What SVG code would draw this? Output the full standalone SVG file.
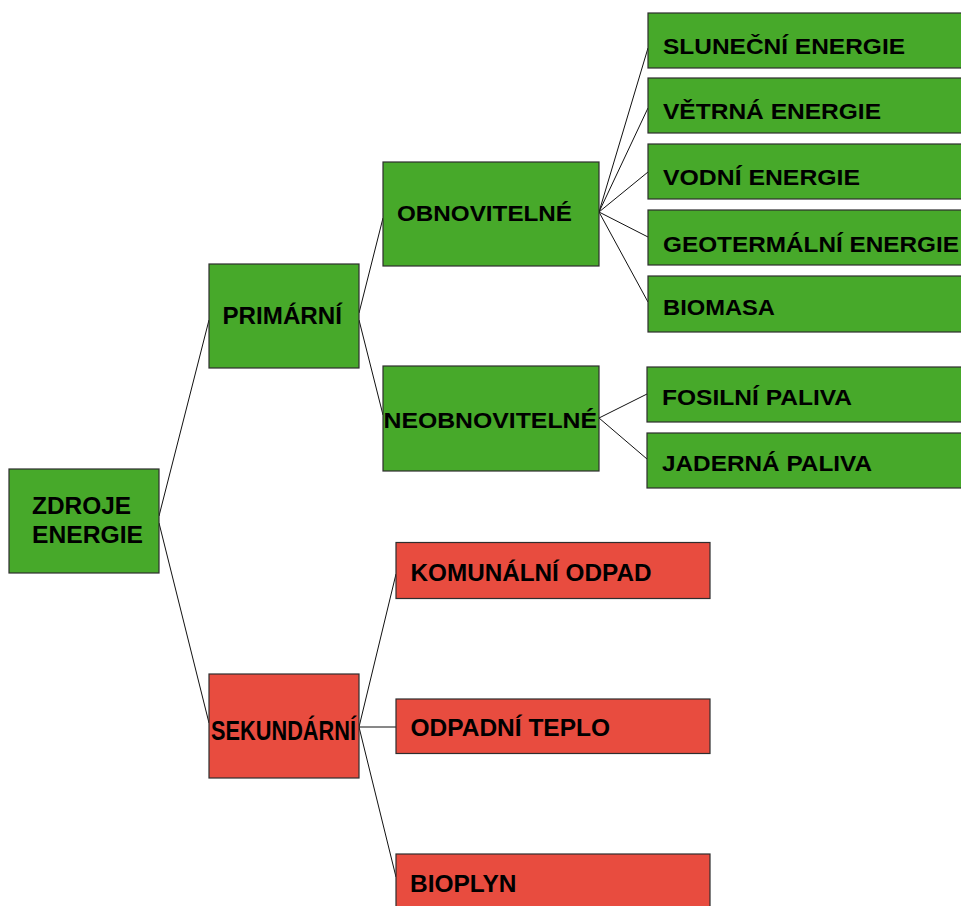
<svg xmlns="http://www.w3.org/2000/svg" width="961" height="906" viewBox="0 0 961 906">
<style>
.g{fill:#47a92a;stroke:#2e2e2e;stroke-width:1.2}
.r{fill:#e84c3f;stroke:#2e2e2e;stroke-width:1.2}
text{font-family:"Liberation Sans",Arial,sans-serif;font-weight:bold;fill:#000}
.c line{stroke:#111;stroke-width:1}
</style>
<rect width="961" height="906" fill="#fff"/>
<g class="c" id="connectors">
<line x1="159" y1="516" x2="209" y2="320"/>
<line x1="159" y1="523" x2="209" y2="723"/>
<line x1="359" y1="313" x2="383" y2="218"/>
<line x1="359" y1="320" x2="383" y2="415"/>
<line x1="599" y1="212" x2="648" y2="48"/>
<line x1="599" y1="212" x2="648" y2="108"/>
<line x1="599" y1="212" x2="648" y2="172"/>
<line x1="599" y1="212" x2="648" y2="237"/>
<line x1="599" y1="212" x2="648" y2="302"/>
<line x1="599" y1="418" x2="647" y2="394"/>
<line x1="599" y1="418" x2="647" y2="459"/>
<line x1="359" y1="727" x2="396" y2="574"/>
<line x1="359" y1="727" x2="396" y2="727"/>
<line x1="359" y1="727" x2="396" y2="877"/>
</g>
<g id="zdroje"><rect class="g" x="9" y="469" width="150" height="104"/>
<text x="32" y="514" font-size="23" textLength="99" lengthAdjust="spacingAndGlyphs">ZDROJE</text>
<text x="32" y="542.5" font-size="23" textLength="111" lengthAdjust="spacingAndGlyphs">ENERGIE</text></g>
<g id="primarni"><rect class="g" x="209" y="264" width="150" height="104"/>
<text x="222.5" y="324" font-size="24" textLength="119.5" lengthAdjust="spacingAndGlyphs">PRIMÁRNÍ</text></g>
<g id="sekundarni"><rect class="r" x="209" y="674" width="150" height="104"/>
<text x="211" y="740" font-size="28" textLength="145" lengthAdjust="spacingAndGlyphs">SEKUNDÁRNÍ</text></g>
<g id="obnovitelne"><rect class="g" x="383" y="162" width="216" height="104"/>
<text x="397" y="221" font-size="22" textLength="175" lengthAdjust="spacingAndGlyphs">OBNOVITELNÉ</text></g>
<g id="neobnovitelne"><rect class="g" x="383" y="366" width="216" height="105"/>
<text x="383.5" y="428" font-size="22" textLength="213.5" lengthAdjust="spacingAndGlyphs">NEOBNOVITELNÉ</text></g>
<g id="slunecni"><rect class="g" x="648" y="13" width="330" height="55"/>
<text x="663" y="54" font-size="21.5" textLength="242" lengthAdjust="spacingAndGlyphs">SLUNEČNÍ ENERGIE</text></g>
<g id="vetrna"><rect class="g" x="648" y="78" width="330" height="55"/>
<text x="663" y="119" font-size="21.5" textLength="218" lengthAdjust="spacingAndGlyphs">VĚTRNÁ ENERGIE</text></g>
<g id="vodni"><rect class="g" x="648" y="144" width="330" height="55"/>
<text x="663" y="185" font-size="21.5" textLength="197" lengthAdjust="spacingAndGlyphs">VODNÍ ENERGIE</text></g>
<g id="geotermalni"><rect class="g" x="648" y="210" width="330" height="55"/>
<text x="663" y="251.5" font-size="21.5" textLength="296" lengthAdjust="spacingAndGlyphs">GEOTERMÁLNÍ ENERGIE</text></g>
<g id="biomasa"><rect class="g" x="648" y="276" width="330" height="56"/>
<text x="663" y="315" font-size="21.5" textLength="112" lengthAdjust="spacingAndGlyphs">BIOMASA</text></g>
<g id="fosilni"><rect class="g" x="647" y="367" width="330" height="55"/>
<text x="662" y="405" font-size="22.5" textLength="190" lengthAdjust="spacingAndGlyphs">FOSILNÍ PALIVA</text></g>
<g id="jaderna"><rect class="g" x="647" y="433" width="330" height="55"/>
<text x="662" y="471" font-size="22.5" textLength="210" lengthAdjust="spacingAndGlyphs">JADERNÁ PALIVA</text></g>
<g id="komunalni"><rect class="r" x="396" y="542.5" width="314" height="56"/>
<text x="410.5" y="581" font-size="23.5" textLength="241" lengthAdjust="spacingAndGlyphs">KOMUNÁLNÍ ODPAD</text></g>
<g id="odpadni"><rect class="r" x="396" y="699" width="314" height="54.5"/>
<text x="410.5" y="736" font-size="23.5" textLength="199.5" lengthAdjust="spacingAndGlyphs">ODPADNÍ TEPLO</text></g>
<g id="bioplyn"><rect class="r" x="396" y="854" width="314" height="60"/>
<text x="410" y="892" font-size="23.5" textLength="106.5" lengthAdjust="spacingAndGlyphs">BIOPLYN</text></g>
</svg>
